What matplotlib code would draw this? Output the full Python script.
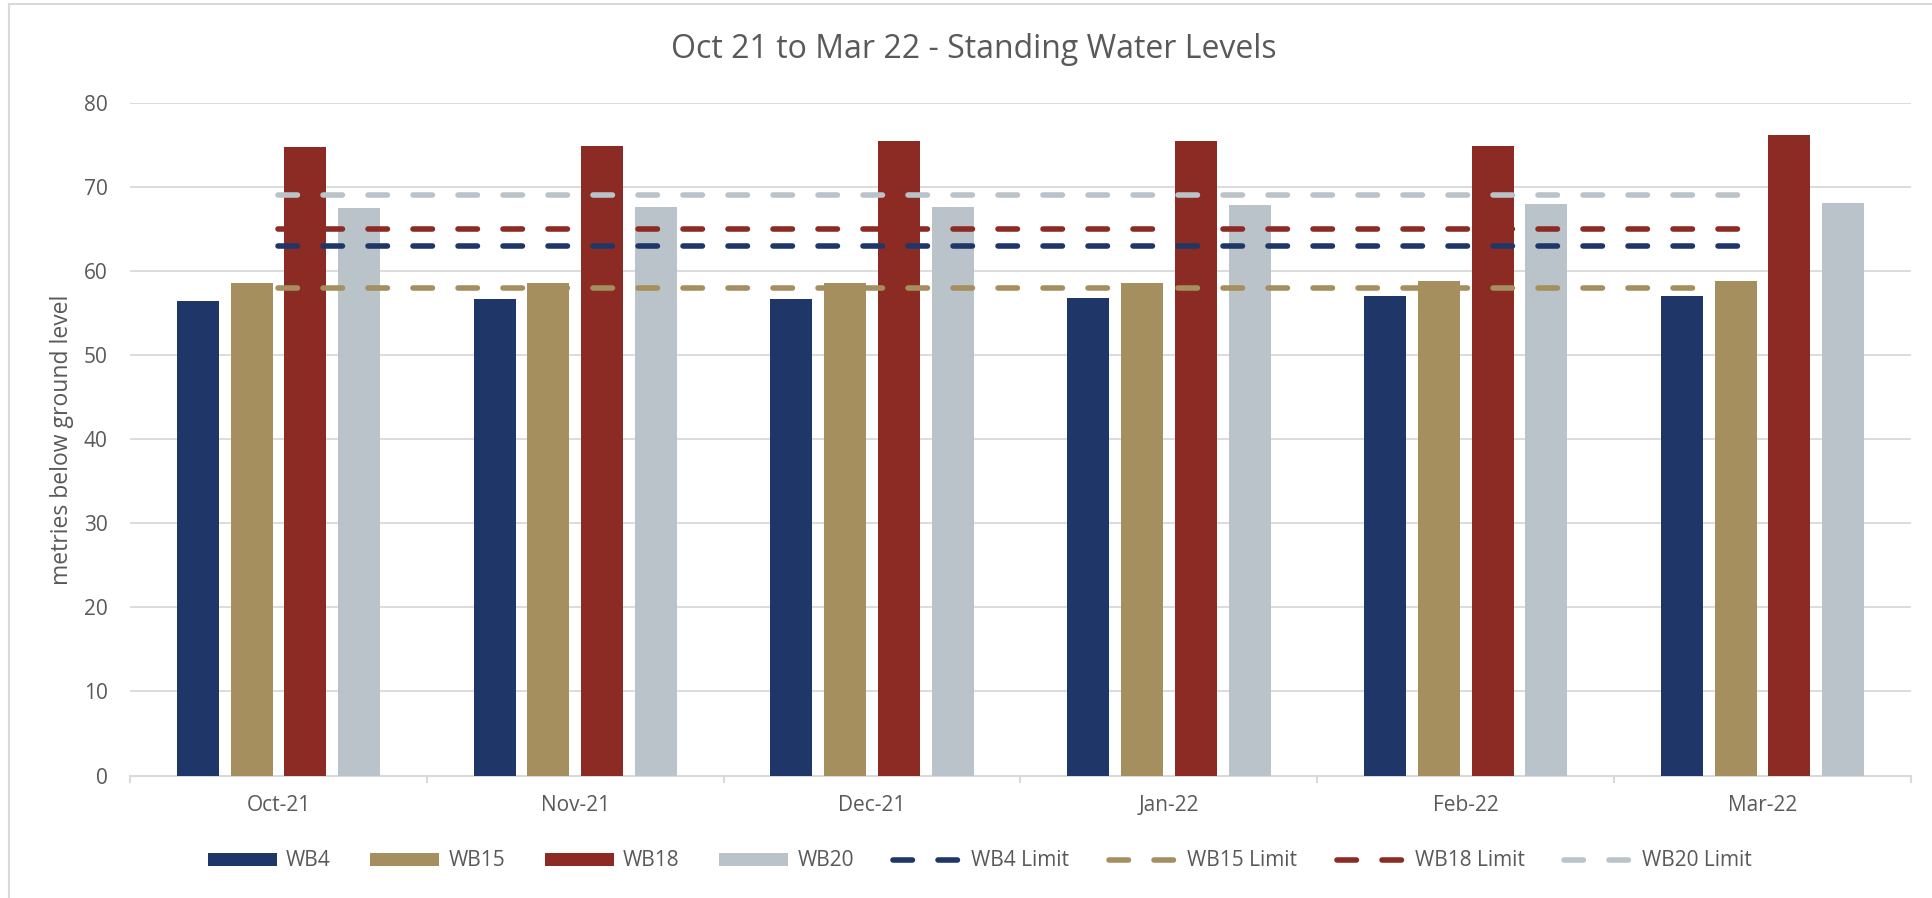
import matplotlib
matplotlib.use("Agg")
import matplotlib.pyplot as plt
from matplotlib.lines import Line2D
import numpy as np

# ---- data ----
months = ["Oct-21", "Nov-21", "Dec-21", "Jan-22", "Feb-22", "Mar-22"]
wb4 = [56.4, 56.7, 56.7, 56.8, 57.0, 57.0]
wb15 = [58.6, 58.6, 58.6, 58.6, 58.8, 58.8]
wb18 = [74.7, 74.9, 75.4, 75.5, 74.9, 76.2]
wb20 = [67.5, 67.6, 67.6, 67.8, 68.0, 68.1]
wb4_limit = [63, 63, 63, 63, 63, 63]
wb15_limit = [58, 58, 58, 58, 58, 58]
wb18_limit = [65, 65, 65, 65, 65, 65]
wb20_limit = [69, 69, 69, 69, 69, 69]
y_ticks = [0, 10, 20, 30, 40, 50, 60, 70, 80]

title = "Oct 21 to Mar 22 - Standing Water Levels"
y_label = "metries below ground level"

# ---- style ----
c_navy = "#1e3768"
c_tan = "#a58f5f"
c_red = "#8b2b24"
c_grey = "#bac3c9"
txt = "#595959"
grid = "#d9d9d9"
font = ["Open Sans", "DejaVu Sans"]
plt.rcParams["font.family"] = font

W, H = 1933, 898
fig = plt.figure(figsize=(W / 100, H / 100), dpi=100)
left, right, top, bottom = 130, 1911, 102.7, 775.5
ax = fig.add_axes([left / W, 1 - bottom / H, (right - left) / W, (bottom - top) / H])

x = np.arange(len(months))
step = 0.181
bw = 0.1415
series = [("WB4", wb4, c_navy), ("WB15", wb15, c_tan), ("WB18", wb18, c_red), ("WB20", wb20, c_grey)]
handles = []
for i, (name, vals, col) in enumerate(series):
    b = ax.bar(x + (i - 1.5) * step, vals, width=bw, color=col, label=name, zorder=2)
    handles.append(b)

limits = [("WB4 Limit", wb4_limit, c_navy), ("WB15 Limit", wb15_limit, c_tan),
          ("WB18 Limit", wb18_limit, c_red), ("WB20 Limit", wb20_limit, c_grey)]
for name, vals, col in limits:
    ln, = ax.plot(x, vals, color=col, lw=4, linestyle=(0, (3.5, 4.6)),
                  dash_capstyle="round", solid_capstyle="round", label=name, zorder=3)
    handles.append(ln)

ax.set_xlim(-0.5, len(months) - 0.5)
ax.set_ylim(0, 80)
ax.set_yticks(y_ticks)
ax.set_xticks(x)
ax.set_xticklabels(months)
ax.set_xticks(np.arange(-0.5, len(months)), minor=True)
ax.tick_params(axis="x", which="major", length=0, pad=14, labelsize=15, labelcolor=txt)
ax.tick_params(axis="x", which="minor", length=5, width=1.5, color=grid)
ax.tick_params(axis="y", length=0, pad=16, labelsize=15, labelcolor=txt)
ax.yaxis.grid(True, color=grid, lw=1.3, zorder=0)
ax.set_axisbelow(True)
for s in ["left", "right", "top"]:
    ax.spines[s].set_visible(False)
ax.spines["bottom"].set_color(grid)
ax.spines["bottom"].set_linewidth(1.5)
ax.spines["bottom"].set_zorder(1)

fig.text(974 / W, 1 - 49 / H, title, ha="center", va="center", fontsize=23, color=txt)
fig.text(62 / W, 1 - 440 / H, y_label, ha="center", va="center", rotation=90, fontsize=16.5, color=txt)

leg = fig.legend(handles=handles, labels=[h.get_label() for h in handles], loc="center",
                 bbox_to_anchor=(980 / W, 1 - 861 / H), ncol=8, frameon=False, fontsize=15,
                 handlelength=3.3, handleheight=0.58, handletextpad=0.45, columnspacing=1.9,
                 labelcolor=txt)

# outer chart border (left and top visible)
fig.add_artist(Line2D([9 / W, 9 / W], [0, 1 - 4 / H], transform=fig.transFigure, color=grid, lw=1.5))
fig.add_artist(Line2D([9 / W, 1], [1 - 4 / H, 1 - 4 / H], transform=fig.transFigure, color=grid, lw=1.5))

fig.savefig("out.png", dpi=100, facecolor="white")
